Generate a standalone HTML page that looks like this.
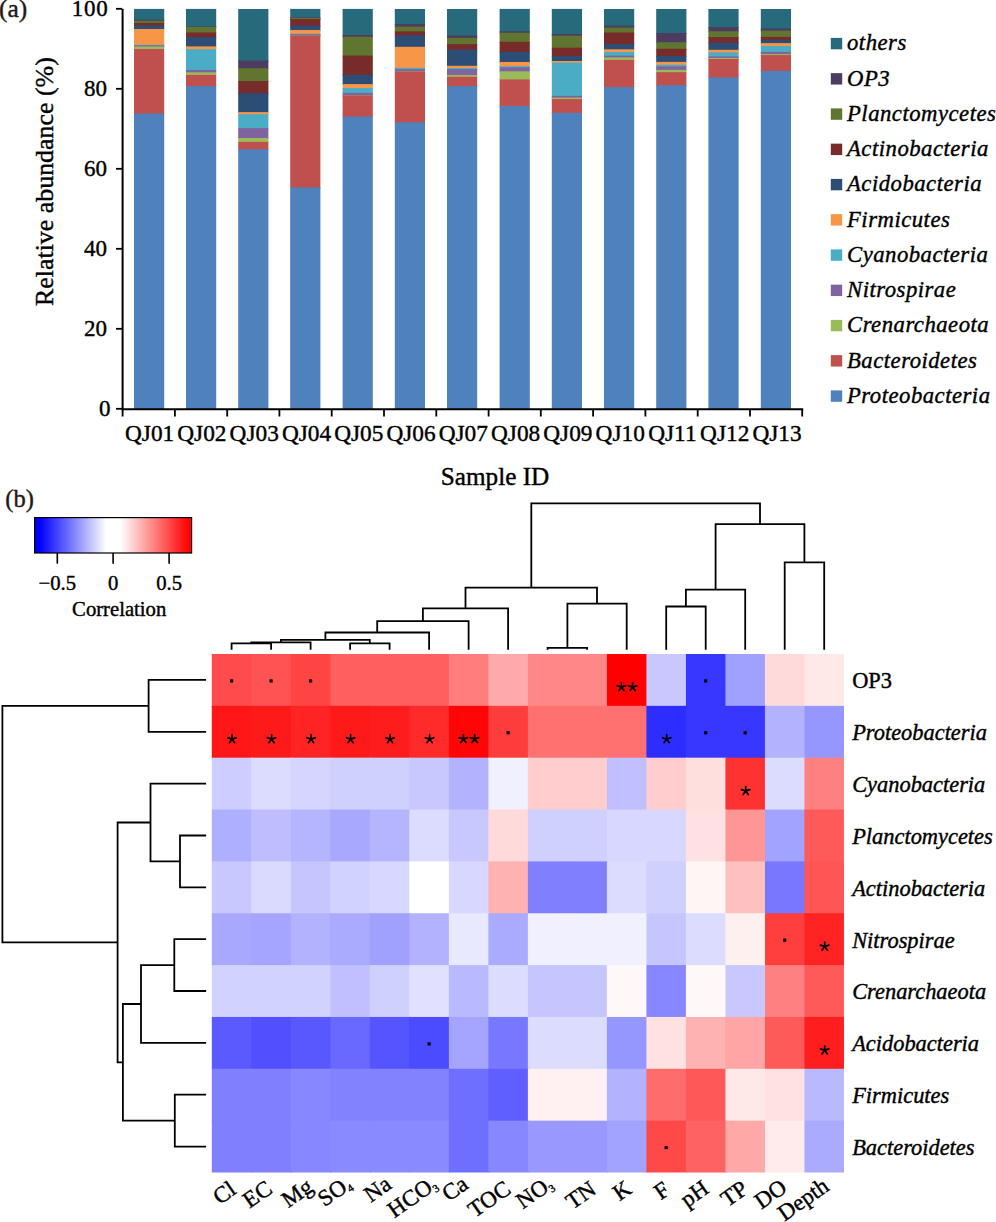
<!DOCTYPE html>
<html><head><meta charset="utf-8"><title>Figure</title>
<style>
html,body{margin:0;padding:0;background:#fff;}
body{width:996px;height:1222px;overflow:hidden;}
svg{display:block;}
text{font-family:"Liberation Serif", serif;fill:#000;stroke:#000;stroke-width:0.4px;}
</style></head>
<body>
<svg width="996" height="1222" viewBox="0 0 996 1222">
<rect x="134.0" y="8.90" width="30.2" height="11.80" fill="#276A7C"/>
<rect x="134.0" y="19.70" width="30.2" height="2.00" fill="#4D3B62"/>
<rect x="134.0" y="20.70" width="30.2" height="3.20" fill="#5F7530"/>
<rect x="134.0" y="22.90" width="30.2" height="3.50" fill="#772C2A"/>
<rect x="134.0" y="25.40" width="30.2" height="4.60" fill="#2C4D75"/>
<rect x="134.0" y="29.00" width="30.2" height="16.80" fill="#F79646"/>
<rect x="134.0" y="44.80" width="30.2" height="1.60" fill="#4BACC6"/>
<rect x="134.0" y="45.40" width="30.2" height="2.10" fill="#8064A2"/>
<rect x="134.0" y="46.50" width="30.2" height="3.50" fill="#9BBB59"/>
<rect x="134.0" y="49.00" width="30.2" height="65.50" fill="#C0504D"/>
<rect x="134.0" y="113.50" width="30.2" height="295.80" fill="#4F81BD"/>
<rect x="186.0" y="8.90" width="30.2" height="18.50" fill="#276A7C"/>
<rect x="186.0" y="26.40" width="30.2" height="1.50" fill="#4D3B62"/>
<rect x="186.0" y="26.90" width="30.2" height="6.60" fill="#5F7530"/>
<rect x="186.0" y="32.50" width="30.2" height="5.60" fill="#772C2A"/>
<rect x="186.0" y="37.10" width="30.2" height="10.30" fill="#2C4D75"/>
<rect x="186.0" y="46.40" width="30.2" height="3.80" fill="#F79646"/>
<rect x="186.0" y="49.20" width="30.2" height="21.80" fill="#4BACC6"/>
<rect x="186.0" y="70.00" width="30.2" height="3.30" fill="#8064A2"/>
<rect x="186.0" y="72.30" width="30.2" height="3.60" fill="#9BBB59"/>
<rect x="186.0" y="74.90" width="30.2" height="12.10" fill="#C0504D"/>
<rect x="186.0" y="86.00" width="30.2" height="323.30" fill="#4F81BD"/>
<rect x="238.2" y="9.00" width="30.2" height="52.60" fill="#276A7C"/>
<rect x="238.2" y="60.60" width="30.2" height="8.60" fill="#4D3B62"/>
<rect x="238.2" y="68.20" width="30.2" height="13.80" fill="#5F7530"/>
<rect x="238.2" y="81.00" width="30.2" height="13.30" fill="#772C2A"/>
<rect x="238.2" y="93.30" width="30.2" height="19.80" fill="#2C4D75"/>
<rect x="238.2" y="112.10" width="30.2" height="3.10" fill="#F79646"/>
<rect x="238.2" y="114.20" width="30.2" height="14.90" fill="#4BACC6"/>
<rect x="238.2" y="128.10" width="30.2" height="10.90" fill="#8064A2"/>
<rect x="238.2" y="138.00" width="30.2" height="4.90" fill="#9BBB59"/>
<rect x="238.2" y="141.90" width="30.2" height="8.40" fill="#C0504D"/>
<rect x="238.2" y="149.30" width="30.2" height="260.00" fill="#4F81BD"/>
<rect x="290.2" y="8.90" width="30.2" height="9.50" fill="#276A7C"/>
<rect x="290.2" y="17.40" width="30.2" height="1.50" fill="#4D3B62"/>
<rect x="290.2" y="17.90" width="30.2" height="2.10" fill="#5F7530"/>
<rect x="290.2" y="19.00" width="30.2" height="7.60" fill="#772C2A"/>
<rect x="290.2" y="25.60" width="30.2" height="5.40" fill="#2C4D75"/>
<rect x="290.2" y="30.00" width="30.2" height="4.70" fill="#F79646"/>
<rect x="290.2" y="33.70" width="30.2" height="1.50" fill="#4BACC6"/>
<rect x="290.2" y="34.20" width="30.2" height="2.20" fill="#8064A2"/>
<rect x="290.2" y="35.40" width="30.2" height="1.30" fill="#9BBB59"/>
<rect x="290.2" y="35.70" width="30.2" height="152.70" fill="#C0504D"/>
<rect x="290.2" y="187.40" width="30.2" height="221.90" fill="#4F81BD"/>
<rect x="342.6" y="8.90" width="30.2" height="27.00" fill="#276A7C"/>
<rect x="342.6" y="34.90" width="30.2" height="2.80" fill="#4D3B62"/>
<rect x="342.6" y="36.70" width="30.2" height="19.90" fill="#5F7530"/>
<rect x="342.6" y="55.60" width="30.2" height="20.30" fill="#772C2A"/>
<rect x="342.6" y="74.90" width="30.2" height="10.20" fill="#2C4D75"/>
<rect x="342.6" y="84.10" width="30.2" height="4.90" fill="#F79646"/>
<rect x="342.6" y="88.00" width="30.2" height="5.90" fill="#4BACC6"/>
<rect x="342.6" y="92.90" width="30.2" height="3.50" fill="#8064A2"/>
<rect x="342.6" y="95.40" width="30.2" height="1.10" fill="#9BBB59"/>
<rect x="342.6" y="95.50" width="30.2" height="22.00" fill="#C0504D"/>
<rect x="342.6" y="116.50" width="30.2" height="292.80" fill="#4F81BD"/>
<rect x="394.8" y="9.00" width="30.2" height="16.00" fill="#276A7C"/>
<rect x="394.8" y="24.00" width="30.2" height="3.60" fill="#4D3B62"/>
<rect x="394.8" y="26.60" width="30.2" height="5.80" fill="#5F7530"/>
<rect x="394.8" y="31.40" width="30.2" height="5.00" fill="#772C2A"/>
<rect x="394.8" y="35.40" width="30.2" height="12.40" fill="#2C4D75"/>
<rect x="394.8" y="46.80" width="30.2" height="22.00" fill="#F79646"/>
<rect x="394.8" y="67.80" width="30.2" height="2.40" fill="#4BACC6"/>
<rect x="394.8" y="69.20" width="30.2" height="3.10" fill="#8064A2"/>
<rect x="394.8" y="71.30" width="30.2" height="1.20" fill="#9BBB59"/>
<rect x="394.8" y="71.50" width="30.2" height="51.80" fill="#C0504D"/>
<rect x="394.8" y="122.30" width="30.2" height="287.00" fill="#4F81BD"/>
<rect x="447.0" y="9.00" width="30.2" height="27.50" fill="#276A7C"/>
<rect x="447.0" y="35.50" width="30.2" height="3.30" fill="#4D3B62"/>
<rect x="447.0" y="37.80" width="30.2" height="7.30" fill="#5F7530"/>
<rect x="447.0" y="44.10" width="30.2" height="6.50" fill="#772C2A"/>
<rect x="447.0" y="49.60" width="30.2" height="17.20" fill="#2C4D75"/>
<rect x="447.0" y="65.80" width="30.2" height="3.20" fill="#F79646"/>
<rect x="447.0" y="68.00" width="30.2" height="2.10" fill="#4BACC6"/>
<rect x="447.0" y="69.10" width="30.2" height="6.90" fill="#8064A2"/>
<rect x="447.0" y="75.00" width="30.2" height="2.80" fill="#9BBB59"/>
<rect x="447.0" y="76.80" width="30.2" height="10.30" fill="#C0504D"/>
<rect x="447.0" y="86.10" width="30.2" height="323.20" fill="#4F81BD"/>
<rect x="499.6" y="8.90" width="30.2" height="23.40" fill="#276A7C"/>
<rect x="499.6" y="31.30" width="30.2" height="2.40" fill="#4D3B62"/>
<rect x="499.6" y="32.70" width="30.2" height="10.10" fill="#5F7530"/>
<rect x="499.6" y="41.80" width="30.2" height="11.10" fill="#772C2A"/>
<rect x="499.6" y="51.90" width="30.2" height="11.10" fill="#2C4D75"/>
<rect x="499.6" y="62.00" width="30.2" height="5.20" fill="#F79646"/>
<rect x="499.6" y="66.20" width="30.2" height="2.20" fill="#4BACC6"/>
<rect x="499.6" y="67.40" width="30.2" height="4.90" fill="#8064A2"/>
<rect x="499.6" y="71.30" width="30.2" height="9.10" fill="#9BBB59"/>
<rect x="499.6" y="79.40" width="30.2" height="27.60" fill="#C0504D"/>
<rect x="499.6" y="106.00" width="30.2" height="303.30" fill="#4F81BD"/>
<rect x="551.8" y="8.90" width="30.2" height="26.10" fill="#276A7C"/>
<rect x="551.8" y="34.00" width="30.2" height="2.70" fill="#4D3B62"/>
<rect x="551.8" y="35.70" width="30.2" height="13.00" fill="#5F7530"/>
<rect x="551.8" y="47.70" width="30.2" height="9.40" fill="#772C2A"/>
<rect x="551.8" y="56.10" width="30.2" height="5.90" fill="#2C4D75"/>
<rect x="551.8" y="61.00" width="30.2" height="2.60" fill="#F79646"/>
<rect x="551.8" y="62.60" width="30.2" height="34.20" fill="#4BACC6"/>
<rect x="551.8" y="95.80" width="30.2" height="2.80" fill="#8064A2"/>
<rect x="551.8" y="97.60" width="30.2" height="2.50" fill="#9BBB59"/>
<rect x="551.8" y="99.10" width="30.2" height="14.70" fill="#C0504D"/>
<rect x="551.8" y="112.80" width="30.2" height="296.50" fill="#4F81BD"/>
<rect x="604.0" y="9.00" width="30.2" height="17.70" fill="#276A7C"/>
<rect x="604.0" y="25.70" width="30.2" height="2.90" fill="#4D3B62"/>
<rect x="604.0" y="27.60" width="30.2" height="5.90" fill="#5F7530"/>
<rect x="604.0" y="32.50" width="30.2" height="12.60" fill="#772C2A"/>
<rect x="604.0" y="44.10" width="30.2" height="6.20" fill="#2C4D75"/>
<rect x="604.0" y="49.30" width="30.2" height="3.70" fill="#F79646"/>
<rect x="604.0" y="52.00" width="30.2" height="4.60" fill="#4BACC6"/>
<rect x="604.0" y="55.60" width="30.2" height="2.80" fill="#8064A2"/>
<rect x="604.0" y="57.40" width="30.2" height="3.50" fill="#9BBB59"/>
<rect x="604.0" y="59.90" width="30.2" height="28.20" fill="#C0504D"/>
<rect x="604.0" y="87.10" width="30.2" height="322.20" fill="#4F81BD"/>
<rect x="656.2" y="9.00" width="30.2" height="25.00" fill="#276A7C"/>
<rect x="656.2" y="33.00" width="30.2" height="10.20" fill="#4D3B62"/>
<rect x="656.2" y="42.20" width="30.2" height="7.60" fill="#5F7530"/>
<rect x="656.2" y="48.80" width="30.2" height="8.20" fill="#772C2A"/>
<rect x="656.2" y="56.00" width="30.2" height="6.90" fill="#2C4D75"/>
<rect x="656.2" y="61.90" width="30.2" height="3.80" fill="#F79646"/>
<rect x="656.2" y="64.70" width="30.2" height="2.70" fill="#4BACC6"/>
<rect x="656.2" y="66.40" width="30.2" height="4.50" fill="#8064A2"/>
<rect x="656.2" y="69.90" width="30.2" height="3.30" fill="#9BBB59"/>
<rect x="656.2" y="72.20" width="30.2" height="14.00" fill="#C0504D"/>
<rect x="656.2" y="85.20" width="30.2" height="324.10" fill="#4F81BD"/>
<rect x="708.4" y="9.00" width="30.2" height="19.10" fill="#276A7C"/>
<rect x="708.4" y="27.10" width="30.2" height="5.10" fill="#4D3B62"/>
<rect x="708.4" y="31.20" width="30.2" height="6.90" fill="#5F7530"/>
<rect x="708.4" y="37.10" width="30.2" height="6.50" fill="#772C2A"/>
<rect x="708.4" y="42.60" width="30.2" height="8.20" fill="#2C4D75"/>
<rect x="708.4" y="49.80" width="30.2" height="3.60" fill="#F79646"/>
<rect x="708.4" y="52.40" width="30.2" height="5.00" fill="#4BACC6"/>
<rect x="708.4" y="56.40" width="30.2" height="2.60" fill="#8064A2"/>
<rect x="708.4" y="58.00" width="30.2" height="2.00" fill="#9BBB59"/>
<rect x="708.4" y="59.00" width="30.2" height="19.50" fill="#C0504D"/>
<rect x="708.4" y="77.50" width="30.2" height="331.80" fill="#4F81BD"/>
<rect x="760.8" y="9.00" width="30.2" height="20.50" fill="#276A7C"/>
<rect x="760.8" y="28.50" width="30.2" height="3.10" fill="#4D3B62"/>
<rect x="760.8" y="30.60" width="30.2" height="7.30" fill="#5F7530"/>
<rect x="760.8" y="36.90" width="30.2" height="3.90" fill="#772C2A"/>
<rect x="760.8" y="39.80" width="30.2" height="4.30" fill="#2C4D75"/>
<rect x="760.8" y="43.10" width="30.2" height="4.00" fill="#F79646"/>
<rect x="760.8" y="46.10" width="30.2" height="6.80" fill="#4BACC6"/>
<rect x="760.8" y="51.90" width="30.2" height="3.20" fill="#8064A2"/>
<rect x="760.8" y="54.10" width="30.2" height="2.00" fill="#9BBB59"/>
<rect x="760.8" y="55.10" width="30.2" height="16.80" fill="#C0504D"/>
<rect x="760.8" y="70.90" width="30.2" height="338.40" fill="#4F81BD"/>
<line x1="122.6" y1="8.8" x2="122.6" y2="410.3" stroke="#000" stroke-width="2"/>
<line x1="121.6" y1="409.3" x2="803.2" y2="409.3" stroke="#000" stroke-width="2"/>
<line x1="116" y1="8.8" x2="122" y2="8.8" stroke="#000" stroke-width="1.8"/>
<text x="108.6" y="16.0" text-anchor="end" font-size="23" letter-spacing="0.8">100</text>
<line x1="116" y1="88.8" x2="122" y2="88.8" stroke="#000" stroke-width="1.8"/>
<text x="107" y="96.0" text-anchor="end" font-size="23">80</text>
<line x1="116" y1="168.8" x2="122" y2="168.8" stroke="#000" stroke-width="1.8"/>
<text x="107" y="176.0" text-anchor="end" font-size="23">60</text>
<line x1="116" y1="248.8" x2="122" y2="248.8" stroke="#000" stroke-width="1.8"/>
<text x="107" y="256.0" text-anchor="end" font-size="23">40</text>
<line x1="116" y1="328.8" x2="122" y2="328.8" stroke="#000" stroke-width="1.8"/>
<text x="107" y="336.0" text-anchor="end" font-size="23">20</text>
<line x1="116" y1="408.8" x2="122" y2="408.8" stroke="#000" stroke-width="1.8"/>
<text x="110.6" y="416.0" text-anchor="end" font-size="23">0</text>
<line x1="122.6" y1="409.3" x2="122.6" y2="416.5" stroke="#000" stroke-width="1.8"/>
<line x1="174.9" y1="409.3" x2="174.9" y2="416.5" stroke="#000" stroke-width="1.8"/>
<line x1="227.2" y1="409.3" x2="227.2" y2="416.5" stroke="#000" stroke-width="1.8"/>
<line x1="279.4" y1="409.3" x2="279.4" y2="416.5" stroke="#000" stroke-width="1.8"/>
<line x1="331.7" y1="409.3" x2="331.7" y2="416.5" stroke="#000" stroke-width="1.8"/>
<line x1="384.0" y1="409.3" x2="384.0" y2="416.5" stroke="#000" stroke-width="1.8"/>
<line x1="436.3" y1="409.3" x2="436.3" y2="416.5" stroke="#000" stroke-width="1.8"/>
<line x1="488.6" y1="409.3" x2="488.6" y2="416.5" stroke="#000" stroke-width="1.8"/>
<line x1="540.8" y1="409.3" x2="540.8" y2="416.5" stroke="#000" stroke-width="1.8"/>
<line x1="593.1" y1="409.3" x2="593.1" y2="416.5" stroke="#000" stroke-width="1.8"/>
<line x1="645.4" y1="409.3" x2="645.4" y2="416.5" stroke="#000" stroke-width="1.8"/>
<line x1="697.7" y1="409.3" x2="697.7" y2="416.5" stroke="#000" stroke-width="1.8"/>
<line x1="750.0" y1="409.3" x2="750.0" y2="416.5" stroke="#000" stroke-width="1.8"/>
<line x1="802.2" y1="409.3" x2="802.2" y2="416.5" stroke="#000" stroke-width="1.8"/>
<text x="149.6" y="441.2" text-anchor="middle" font-size="23.3">QJ01</text>
<text x="201.9" y="441.2" text-anchor="middle" font-size="23.3">QJ02</text>
<text x="254.2" y="441.2" text-anchor="middle" font-size="23.3">QJ03</text>
<text x="306.5" y="441.2" text-anchor="middle" font-size="23.3">QJ04</text>
<text x="358.8" y="441.2" text-anchor="middle" font-size="23.3">QJ05</text>
<text x="411.0" y="441.2" text-anchor="middle" font-size="23.3">QJ06</text>
<text x="463.3" y="441.2" text-anchor="middle" font-size="23.3">QJ07</text>
<text x="515.6" y="441.2" text-anchor="middle" font-size="23.3">QJ08</text>
<text x="567.9" y="441.2" text-anchor="middle" font-size="23.3">QJ09</text>
<text x="620.2" y="441.2" text-anchor="middle" font-size="23.3">QJ10</text>
<text x="672.4" y="441.2" text-anchor="middle" font-size="23.3">QJ11</text>
<text x="724.7" y="441.2" text-anchor="middle" font-size="23.3">QJ12</text>
<text x="777.0" y="441.2" text-anchor="middle" font-size="23.3">QJ13</text>
<text x="495" y="484.5" text-anchor="middle" font-size="25.2">Sample ID</text>
<text transform="translate(52.6,181.6) rotate(-90)" text-anchor="middle" font-size="25.9">Relative abundance (%)</text>
<text x="-1" y="16.6" font-size="25.5" style="fill:#231815;stroke:#231815">(a)</text>
<rect x="830.8" y="37.90" width="11.4" height="11.4" fill="#276A7C"/>
<text x="847" y="50.40" font-size="22.7" font-style="italic" letter-spacing="0.5">others</text>
<rect x="830.8" y="73.15" width="11.4" height="11.4" fill="#4D3B62"/>
<text x="847" y="85.65" font-size="22.7" font-style="italic" letter-spacing="0.5">OP3</text>
<rect x="830.8" y="108.40" width="11.4" height="11.4" fill="#5F7530"/>
<text x="847" y="120.90" font-size="22.7" font-style="italic" letter-spacing="0.5">Planctomycetes</text>
<rect x="830.8" y="143.65" width="11.4" height="11.4" fill="#772C2A"/>
<text x="847" y="156.15" font-size="22.7" font-style="italic" letter-spacing="0.5">Actinobacteria</text>
<rect x="830.8" y="178.90" width="11.4" height="11.4" fill="#2C4D75"/>
<text x="847" y="191.40" font-size="22.7" font-style="italic" letter-spacing="0.5">Acidobacteria</text>
<rect x="830.8" y="214.15" width="11.4" height="11.4" fill="#F79646"/>
<text x="847" y="226.65" font-size="22.7" font-style="italic" letter-spacing="0.5">Firmicutes</text>
<rect x="830.8" y="249.40" width="11.4" height="11.4" fill="#4BACC6"/>
<text x="847" y="261.90" font-size="22.7" font-style="italic" letter-spacing="0.5">Cyanobacteria</text>
<rect x="830.8" y="284.65" width="11.4" height="11.4" fill="#8064A2"/>
<text x="847" y="297.15" font-size="22.7" font-style="italic" letter-spacing="0.5">Nitrospirae</text>
<rect x="830.8" y="319.90" width="11.4" height="11.4" fill="#9BBB59"/>
<text x="847" y="332.40" font-size="22.7" font-style="italic" letter-spacing="0.5">Crenarchaeota</text>
<rect x="830.8" y="355.15" width="11.4" height="11.4" fill="#C0504D"/>
<text x="847" y="367.65" font-size="22.7" font-style="italic" letter-spacing="0.5">Bacteroidetes</text>
<rect x="830.8" y="390.40" width="11.4" height="11.4" fill="#4F81BD"/>
<text x="847" y="402.90" font-size="22.7" font-style="italic" letter-spacing="0.5">Proteobacteria</text>
<rect x="211.80" y="654.00" width="40.71" height="53.05" fill="#ff4b4b"/>
<rect x="251.31" y="654.00" width="40.71" height="53.05" fill="#ff5252"/>
<rect x="290.82" y="654.00" width="40.71" height="53.05" fill="#ff4444"/>
<rect x="330.33" y="654.00" width="40.71" height="53.05" fill="#ff5f5f"/>
<rect x="369.84" y="654.00" width="40.71" height="53.05" fill="#ff5f5f"/>
<rect x="409.35" y="654.00" width="40.71" height="53.05" fill="#ff5f5f"/>
<rect x="448.86" y="654.00" width="40.71" height="53.05" fill="#ff7d7d"/>
<rect x="488.37" y="654.00" width="40.71" height="53.05" fill="#ffaaaa"/>
<rect x="527.88" y="654.00" width="40.71" height="53.05" fill="#ff8787"/>
<rect x="567.39" y="654.00" width="40.71" height="53.05" fill="#ff8787"/>
<rect x="606.90" y="654.00" width="40.71" height="53.05" fill="#ff0000"/>
<rect x="646.41" y="654.00" width="40.71" height="53.05" fill="#c8c8ff"/>
<rect x="685.92" y="654.00" width="40.71" height="53.05" fill="#3737ff"/>
<rect x="725.43" y="654.00" width="40.71" height="53.05" fill="#a0a0ff"/>
<rect x="764.94" y="654.00" width="40.71" height="53.05" fill="#ffdada"/>
<rect x="804.45" y="654.00" width="39.51" height="53.05" fill="#ffe8e8"/>
<rect x="211.80" y="705.85" width="40.71" height="53.05" fill="#ff1616"/>
<rect x="251.31" y="705.85" width="40.71" height="53.05" fill="#ff1a1a"/>
<rect x="290.82" y="705.85" width="40.71" height="53.05" fill="#ff2424"/>
<rect x="330.33" y="705.85" width="40.71" height="53.05" fill="#ff1a1a"/>
<rect x="369.84" y="705.85" width="40.71" height="53.05" fill="#ff1c1c"/>
<rect x="409.35" y="705.85" width="40.71" height="53.05" fill="#ff2a2a"/>
<rect x="448.86" y="705.85" width="40.71" height="53.05" fill="#ff0505"/>
<rect x="488.37" y="705.85" width="40.71" height="53.05" fill="#ff3c3c"/>
<rect x="527.88" y="705.85" width="40.71" height="53.05" fill="#ff7070"/>
<rect x="567.39" y="705.85" width="40.71" height="53.05" fill="#ff7070"/>
<rect x="606.90" y="705.85" width="40.71" height="53.05" fill="#ff7070"/>
<rect x="646.41" y="705.85" width="40.71" height="53.05" fill="#2d2dff"/>
<rect x="685.92" y="705.85" width="40.71" height="53.05" fill="#3737ff"/>
<rect x="725.43" y="705.85" width="40.71" height="53.05" fill="#3737ff"/>
<rect x="764.94" y="705.85" width="40.71" height="53.05" fill="#b2b2ff"/>
<rect x="804.45" y="705.85" width="39.51" height="53.05" fill="#9696ff"/>
<rect x="211.80" y="757.70" width="40.71" height="53.05" fill="#cdcdff"/>
<rect x="251.31" y="757.70" width="40.71" height="53.05" fill="#dcdcff"/>
<rect x="290.82" y="757.70" width="40.71" height="53.05" fill="#d5d5ff"/>
<rect x="330.33" y="757.70" width="40.71" height="53.05" fill="#d0d0ff"/>
<rect x="369.84" y="757.70" width="40.71" height="53.05" fill="#d0d0ff"/>
<rect x="409.35" y="757.70" width="40.71" height="53.05" fill="#c8c8ff"/>
<rect x="448.86" y="757.70" width="40.71" height="53.05" fill="#b2b2ff"/>
<rect x="488.37" y="757.70" width="40.71" height="53.05" fill="#f0f0ff"/>
<rect x="527.88" y="757.70" width="40.71" height="53.05" fill="#ffcdcd"/>
<rect x="567.39" y="757.70" width="40.71" height="53.05" fill="#ffcdcd"/>
<rect x="606.90" y="757.70" width="40.71" height="53.05" fill="#c0c0ff"/>
<rect x="646.41" y="757.70" width="40.71" height="53.05" fill="#ffcdcd"/>
<rect x="685.92" y="757.70" width="40.71" height="53.05" fill="#ffdede"/>
<rect x="725.43" y="757.70" width="40.71" height="53.05" fill="#ff3232"/>
<rect x="764.94" y="757.70" width="40.71" height="53.05" fill="#dcdcff"/>
<rect x="804.45" y="757.70" width="39.51" height="53.05" fill="#ff8080"/>
<rect x="211.80" y="809.55" width="40.71" height="53.05" fill="#afafff"/>
<rect x="251.31" y="809.55" width="40.71" height="53.05" fill="#bebeff"/>
<rect x="290.82" y="809.55" width="40.71" height="53.05" fill="#b4b4ff"/>
<rect x="330.33" y="809.55" width="40.71" height="53.05" fill="#a8a8ff"/>
<rect x="369.84" y="809.55" width="40.71" height="53.05" fill="#b4b4ff"/>
<rect x="409.35" y="809.55" width="40.71" height="53.05" fill="#dcdcff"/>
<rect x="448.86" y="809.55" width="40.71" height="53.05" fill="#c8c8ff"/>
<rect x="488.37" y="809.55" width="40.71" height="53.05" fill="#ffdada"/>
<rect x="527.88" y="809.55" width="40.71" height="53.05" fill="#d0d0ff"/>
<rect x="567.39" y="809.55" width="40.71" height="53.05" fill="#d0d0ff"/>
<rect x="606.90" y="809.55" width="40.71" height="53.05" fill="#d7d7ff"/>
<rect x="646.41" y="809.55" width="40.71" height="53.05" fill="#d7d7ff"/>
<rect x="685.92" y="809.55" width="40.71" height="53.05" fill="#ffe1e1"/>
<rect x="725.43" y="809.55" width="40.71" height="53.05" fill="#ff9696"/>
<rect x="764.94" y="809.55" width="40.71" height="53.05" fill="#a2a2ff"/>
<rect x="804.45" y="809.55" width="39.51" height="53.05" fill="#ff5a5a"/>
<rect x="211.80" y="861.40" width="40.71" height="53.05" fill="#c8c8ff"/>
<rect x="251.31" y="861.40" width="40.71" height="53.05" fill="#dadaff"/>
<rect x="290.82" y="861.40" width="40.71" height="53.05" fill="#c6c6ff"/>
<rect x="330.33" y="861.40" width="40.71" height="53.05" fill="#d2d2ff"/>
<rect x="369.84" y="861.40" width="40.71" height="53.05" fill="#d7d7ff"/>
<rect x="409.35" y="861.40" width="40.71" height="53.05" fill="#ffffff"/>
<rect x="448.86" y="861.40" width="40.71" height="53.05" fill="#d7d7ff"/>
<rect x="488.37" y="861.40" width="40.71" height="53.05" fill="#ffb2b2"/>
<rect x="527.88" y="861.40" width="40.71" height="53.05" fill="#8080ff"/>
<rect x="567.39" y="861.40" width="40.71" height="53.05" fill="#8080ff"/>
<rect x="606.90" y="861.40" width="40.71" height="53.05" fill="#dcdcff"/>
<rect x="646.41" y="861.40" width="40.71" height="53.05" fill="#d0d0ff"/>
<rect x="685.92" y="861.40" width="40.71" height="53.05" fill="#fff5f5"/>
<rect x="725.43" y="861.40" width="40.71" height="53.05" fill="#ffc0c0"/>
<rect x="764.94" y="861.40" width="40.71" height="53.05" fill="#7878ff"/>
<rect x="804.45" y="861.40" width="39.51" height="53.05" fill="#ff5555"/>
<rect x="211.80" y="913.25" width="40.71" height="53.05" fill="#a8a8ff"/>
<rect x="251.31" y="913.25" width="40.71" height="53.05" fill="#a5a5ff"/>
<rect x="290.82" y="913.25" width="40.71" height="53.05" fill="#b2b2ff"/>
<rect x="330.33" y="913.25" width="40.71" height="53.05" fill="#aaaaff"/>
<rect x="369.84" y="913.25" width="40.71" height="53.05" fill="#a0a0ff"/>
<rect x="409.35" y="913.25" width="40.71" height="53.05" fill="#b2b2ff"/>
<rect x="448.86" y="913.25" width="40.71" height="53.05" fill="#e8e8ff"/>
<rect x="488.37" y="913.25" width="40.71" height="53.05" fill="#aaaaff"/>
<rect x="527.88" y="913.25" width="40.71" height="53.05" fill="#f0f0ff"/>
<rect x="567.39" y="913.25" width="40.71" height="53.05" fill="#f0f0ff"/>
<rect x="606.90" y="913.25" width="40.71" height="53.05" fill="#f0f0ff"/>
<rect x="646.41" y="913.25" width="40.71" height="53.05" fill="#c6c6ff"/>
<rect x="685.92" y="913.25" width="40.71" height="53.05" fill="#dcdcff"/>
<rect x="725.43" y="913.25" width="40.71" height="53.05" fill="#fff0f0"/>
<rect x="764.94" y="913.25" width="40.71" height="53.05" fill="#ff3e3e"/>
<rect x="804.45" y="913.25" width="39.51" height="53.05" fill="#ff2323"/>
<rect x="211.80" y="965.10" width="40.71" height="53.05" fill="#d2d2ff"/>
<rect x="251.31" y="965.10" width="40.71" height="53.05" fill="#d2d2ff"/>
<rect x="290.82" y="965.10" width="40.71" height="53.05" fill="#d2d2ff"/>
<rect x="330.33" y="965.10" width="40.71" height="53.05" fill="#c0c0ff"/>
<rect x="369.84" y="965.10" width="40.71" height="53.05" fill="#d0d0ff"/>
<rect x="409.35" y="965.10" width="40.71" height="53.05" fill="#e1e1ff"/>
<rect x="448.86" y="965.10" width="40.71" height="53.05" fill="#b9b9ff"/>
<rect x="488.37" y="965.10" width="40.71" height="53.05" fill="#dcdcff"/>
<rect x="527.88" y="965.10" width="40.71" height="53.05" fill="#c6c6ff"/>
<rect x="567.39" y="965.10" width="40.71" height="53.05" fill="#c6c6ff"/>
<rect x="606.90" y="965.10" width="40.71" height="53.05" fill="#fff8f8"/>
<rect x="646.41" y="965.10" width="40.71" height="53.05" fill="#8787ff"/>
<rect x="685.92" y="965.10" width="40.71" height="53.05" fill="#fff8f8"/>
<rect x="725.43" y="965.10" width="40.71" height="53.05" fill="#c8c8ff"/>
<rect x="764.94" y="965.10" width="40.71" height="53.05" fill="#ff8080"/>
<rect x="804.45" y="965.10" width="39.51" height="53.05" fill="#ff5a5a"/>
<rect x="211.80" y="1016.95" width="40.71" height="53.05" fill="#5a5aff"/>
<rect x="251.31" y="1016.95" width="40.71" height="53.05" fill="#5050ff"/>
<rect x="290.82" y="1016.95" width="40.71" height="53.05" fill="#5858ff"/>
<rect x="330.33" y="1016.95" width="40.71" height="53.05" fill="#6969ff"/>
<rect x="369.84" y="1016.95" width="40.71" height="53.05" fill="#5555ff"/>
<rect x="409.35" y="1016.95" width="40.71" height="53.05" fill="#4b4bff"/>
<rect x="448.86" y="1016.95" width="40.71" height="53.05" fill="#a5a5ff"/>
<rect x="488.37" y="1016.95" width="40.71" height="53.05" fill="#7878ff"/>
<rect x="527.88" y="1016.95" width="40.71" height="53.05" fill="#dcdcff"/>
<rect x="567.39" y="1016.95" width="40.71" height="53.05" fill="#dcdcff"/>
<rect x="606.90" y="1016.95" width="40.71" height="53.05" fill="#9696ff"/>
<rect x="646.41" y="1016.95" width="40.71" height="53.05" fill="#ffe1e1"/>
<rect x="685.92" y="1016.95" width="40.71" height="53.05" fill="#ffb2b2"/>
<rect x="725.43" y="1016.95" width="40.71" height="53.05" fill="#ffa5a5"/>
<rect x="764.94" y="1016.95" width="40.71" height="53.05" fill="#ff5a5a"/>
<rect x="804.45" y="1016.95" width="39.51" height="53.05" fill="#ff1e1e"/>
<rect x="211.80" y="1068.80" width="40.71" height="53.05" fill="#8080ff"/>
<rect x="251.31" y="1068.80" width="40.71" height="53.05" fill="#8080ff"/>
<rect x="290.82" y="1068.80" width="40.71" height="53.05" fill="#8787ff"/>
<rect x="330.33" y="1068.80" width="40.71" height="53.05" fill="#8282ff"/>
<rect x="369.84" y="1068.80" width="40.71" height="53.05" fill="#8282ff"/>
<rect x="409.35" y="1068.80" width="40.71" height="53.05" fill="#8282ff"/>
<rect x="448.86" y="1068.80" width="40.71" height="53.05" fill="#6e6eff"/>
<rect x="488.37" y="1068.80" width="40.71" height="53.05" fill="#5f5fff"/>
<rect x="527.88" y="1068.80" width="40.71" height="53.05" fill="#fff1f1"/>
<rect x="567.39" y="1068.80" width="40.71" height="53.05" fill="#fff1f1"/>
<rect x="606.90" y="1068.80" width="40.71" height="53.05" fill="#b2b2ff"/>
<rect x="646.41" y="1068.80" width="40.71" height="53.05" fill="#ff6c6c"/>
<rect x="685.92" y="1068.80" width="40.71" height="53.05" fill="#ff5858"/>
<rect x="725.43" y="1068.80" width="40.71" height="53.05" fill="#ffe8e8"/>
<rect x="764.94" y="1068.80" width="40.71" height="53.05" fill="#ffe1e1"/>
<rect x="804.45" y="1068.80" width="39.51" height="53.05" fill="#b9b9ff"/>
<rect x="211.80" y="1120.65" width="40.71" height="51.85" fill="#8080ff"/>
<rect x="251.31" y="1120.65" width="40.71" height="51.85" fill="#8080ff"/>
<rect x="290.82" y="1120.65" width="40.71" height="51.85" fill="#8787ff"/>
<rect x="330.33" y="1120.65" width="40.71" height="51.85" fill="#8a8aff"/>
<rect x="369.84" y="1120.65" width="40.71" height="51.85" fill="#8a8aff"/>
<rect x="409.35" y="1120.65" width="40.71" height="51.85" fill="#8a8aff"/>
<rect x="448.86" y="1120.65" width="40.71" height="51.85" fill="#6e6eff"/>
<rect x="488.37" y="1120.65" width="40.71" height="51.85" fill="#8787ff"/>
<rect x="527.88" y="1120.65" width="40.71" height="51.85" fill="#9898ff"/>
<rect x="567.39" y="1120.65" width="40.71" height="51.85" fill="#9898ff"/>
<rect x="606.90" y="1120.65" width="40.71" height="51.85" fill="#a2a2ff"/>
<rect x="646.41" y="1120.65" width="40.71" height="51.85" fill="#ff4848"/>
<rect x="685.92" y="1120.65" width="40.71" height="51.85" fill="#ff6262"/>
<rect x="725.43" y="1120.65" width="40.71" height="51.85" fill="#ffa8a8"/>
<rect x="764.94" y="1120.65" width="40.71" height="51.85" fill="#ffebeb"/>
<rect x="804.45" y="1120.65" width="39.51" height="51.85" fill="#aaaaff"/>
<rect x="229.96" y="679.32" width="3.2" height="3.2" fill="#000"/>
<rect x="269.46" y="679.32" width="3.2" height="3.2" fill="#000"/>
<rect x="308.97" y="679.32" width="3.2" height="3.2" fill="#000"/>
<path d="M621.45 687.12L621.45 682.73M621.45 687.12L625.64 685.77M621.45 687.12L624.04 690.68M621.45 687.12L618.87 690.68M621.45 687.12L617.27 685.77" stroke="#000" stroke-width="1.7" stroke-linecap="round" fill="none"/>
<path d="M632.65 687.12L632.65 682.73M632.65 687.12L636.84 685.77M632.65 687.12L635.24 690.68M632.65 687.12L630.07 690.68M632.65 687.12L628.47 685.77" stroke="#000" stroke-width="1.7" stroke-linecap="round" fill="none"/>
<rect x="704.07" y="679.32" width="3.2" height="3.2" fill="#000"/>
<path d="M232.06 739.07L232.06 734.67M232.06 739.07L236.24 737.72M232.06 739.07L234.64 742.63M232.06 739.07L229.47 742.63M232.06 739.07L227.87 737.72" stroke="#000" stroke-width="1.7" stroke-linecap="round" fill="none"/>
<path d="M271.56 739.07L271.56 734.67M271.56 739.07L275.75 737.72M271.56 739.07L274.15 742.63M271.56 739.07L268.98 742.63M271.56 739.07L267.38 737.72" stroke="#000" stroke-width="1.7" stroke-linecap="round" fill="none"/>
<path d="M311.07 739.07L311.07 734.67M311.07 739.07L315.26 737.72M311.07 739.07L313.66 742.63M311.07 739.07L308.49 742.63M311.07 739.07L306.89 737.72" stroke="#000" stroke-width="1.7" stroke-linecap="round" fill="none"/>
<path d="M350.59 739.07L350.59 734.67M350.59 739.07L354.77 737.72M350.59 739.07L353.17 742.63M350.59 739.07L348.00 742.63M350.59 739.07L346.40 737.72" stroke="#000" stroke-width="1.7" stroke-linecap="round" fill="none"/>
<path d="M390.10 739.07L390.10 734.67M390.10 739.07L394.28 737.72M390.10 739.07L392.68 742.63M390.10 739.07L387.51 742.63M390.10 739.07L385.91 737.72" stroke="#000" stroke-width="1.7" stroke-linecap="round" fill="none"/>
<path d="M429.61 739.07L429.61 734.67M429.61 739.07L433.79 737.72M429.61 739.07L432.19 742.63M429.61 739.07L427.02 742.63M429.61 739.07L425.42 737.72" stroke="#000" stroke-width="1.7" stroke-linecap="round" fill="none"/>
<path d="M463.42 738.98L463.42 734.58M463.42 738.98L467.60 737.62M463.42 738.98L466.00 742.53M463.42 738.98L460.83 742.53M463.42 738.98L459.23 737.62" stroke="#000" stroke-width="1.7" stroke-linecap="round" fill="none"/>
<path d="M474.62 738.98L474.62 734.58M474.62 738.98L478.80 737.62M474.62 738.98L477.20 742.53M474.62 738.98L472.03 742.53M474.62 738.98L470.43 737.62" stroke="#000" stroke-width="1.7" stroke-linecap="round" fill="none"/>
<rect x="506.52" y="731.17" width="3.2" height="3.2" fill="#000"/>
<path d="M666.66 739.07L666.66 734.67M666.66 739.07L670.85 737.72M666.66 739.07L669.25 742.63M666.66 739.07L664.08 742.63M666.66 739.07L662.48 737.72" stroke="#000" stroke-width="1.7" stroke-linecap="round" fill="none"/>
<rect x="704.07" y="731.17" width="3.2" height="3.2" fill="#000"/>
<rect x="743.58" y="731.17" width="3.2" height="3.2" fill="#000"/>
<path d="M745.68 790.92L745.68 786.52M745.68 790.92L749.87 789.57M745.68 790.92L748.27 794.48M745.68 790.92L743.10 794.48M745.68 790.92L741.50 789.57" stroke="#000" stroke-width="1.7" stroke-linecap="round" fill="none"/>
<rect x="783.09" y="938.57" width="3.2" height="3.2" fill="#000"/>
<path d="M824.70 946.47L824.70 942.07M824.70 946.47L828.89 945.12M824.70 946.47L827.29 950.03M824.70 946.47L822.12 950.03M824.70 946.47L820.52 945.12" stroke="#000" stroke-width="1.7" stroke-linecap="round" fill="none"/>
<rect x="427.50" y="1042.28" width="3.2" height="3.2" fill="#000"/>
<path d="M824.70 1050.17L824.70 1045.77M824.70 1050.17L828.89 1048.82M824.70 1050.17L827.29 1053.73M824.70 1050.17L822.12 1053.73M824.70 1050.17L820.52 1048.82" stroke="#000" stroke-width="1.7" stroke-linecap="round" fill="none"/>
<rect x="664.56" y="1145.98" width="3.2" height="3.2" fill="#000"/>
<text x="852.2" y="688.2" font-size="22.4">OP3</text>
<text x="852.2" y="740.1" font-size="22.4" font-style="italic">Proteobacteria</text>
<text x="852.2" y="791.9" font-size="22.4" font-style="italic">Cyanobacteria</text>
<text x="852.2" y="843.8" font-size="22.4" font-style="italic">Planctomycetes</text>
<text x="852.2" y="895.6" font-size="22.4" font-style="italic">Actinobacteria</text>
<text x="852.2" y="947.5" font-size="22.4" font-style="italic">Nitrospirae</text>
<text x="852.2" y="999.3" font-size="22.4" font-style="italic">Crenarchaeota</text>
<text x="852.2" y="1051.2" font-size="22.4" font-style="italic">Acidobacteria</text>
<text x="852.2" y="1103.0" font-size="22.4" font-style="italic">Firmicutes</text>
<text x="852.2" y="1154.9" font-size="22.4" font-style="italic">Bacteroidetes</text>
<text transform="translate(237.5,1192.7) rotate(-35)" text-anchor="end" font-size="23">Cl</text>
<text transform="translate(273.7,1192.0) rotate(-35)" text-anchor="end" font-size="23">EC</text>
<text transform="translate(314.4,1189.9) rotate(-35)" text-anchor="end" font-size="23">Mg</text>
<text transform="translate(353.0,1187.2) rotate(-35)" text-anchor="end" font-size="23">SO<tspan font-size="11" dy="3">4</tspan></text>
<text transform="translate(392.8,1187.5) rotate(-35)" text-anchor="end" font-size="23">Na</text>
<text transform="translate(438.6,1187.4) rotate(-35)" text-anchor="end" font-size="23">HCO<tspan font-size="11" dy="3">3</tspan></text>
<text transform="translate(469.7,1187.4) rotate(-35)" text-anchor="end" font-size="23">Ca</text>
<text transform="translate(512.2,1192.1) rotate(-35)" text-anchor="end" font-size="23">TOC</text>
<text transform="translate(554.6,1187.3) rotate(-35)" text-anchor="end" font-size="23">NO<tspan font-size="11" dy="3">3</tspan></text>
<text transform="translate(597.7,1192.5) rotate(-35)" text-anchor="end" font-size="23">TN</text>
<text transform="translate(633.1,1192.0) rotate(-35)" text-anchor="end" font-size="23">K</text>
<text transform="translate(671.2,1193.1) rotate(-35)" text-anchor="end" font-size="23">F</text>
<text transform="translate(710.4,1191.8) rotate(-35)" text-anchor="end" font-size="23">pH</text>
<text transform="translate(749.4,1192.2) rotate(-35)" text-anchor="end" font-size="23">TP</text>
<text transform="translate(788.4,1190.8) rotate(-35)" text-anchor="end" font-size="23">DO</text>
<text transform="translate(830.5,1189.4) rotate(-35)" text-anchor="end" font-size="23">Depth</text>
<path d="M231.6 648.8L231.6 643.4M231.6 643.4L271.1 643.4M271.1 643.4L271.1 648.8M251.3 643.4L251.3 642.4M251.3 642.4L310.6 642.4M310.6 642.4L310.6 648.8M350.1 648.8L350.1 643.4M350.1 643.4L389.6 643.4M389.6 643.4L389.6 648.8M280.9 642.4L280.9 639.8M280.9 639.8L369.8 639.8M369.8 639.8L369.8 643.4M325.4 639.8L325.4 632.5M325.4 632.5L429.1 632.5M429.1 632.5L429.1 648.8M377.2 632.5L377.2 621.2M377.2 621.2L468.6 621.2M468.6 621.2L468.6 648.8M422.9 621.2L422.9 608.3M422.9 608.3L508.1 608.3M508.1 608.3L508.1 648.8M547.6 648.8L547.6 647.8M547.6 647.8L587.1 647.8M587.1 647.8L587.1 648.8M567.4 647.8L567.4 603.7M567.4 603.7L626.7 603.7M626.7 603.7L626.7 648.8M465.5 608.3L465.5 587.7M465.5 587.7L597.0 587.7M597.0 587.7L597.0 603.7M666.2 648.8L666.2 606.5M666.2 606.5L705.7 606.5M705.7 606.5L705.7 648.8M685.9 606.5L685.9 589.6M685.9 589.6L745.2 589.6M745.2 589.6L745.2 648.8M784.7 648.8L784.7 562.3M784.7 562.3L824.2 562.3M824.2 562.3L824.2 648.8M715.6 589.6L715.6 524.1M715.6 524.1L804.4 524.1M804.4 524.1L804.4 562.3M531.3 587.7L531.3 503.3M531.3 503.3L760.0 503.3M760.0 503.3L760.0 524.1M205.2 679.9L148.6 679.9M148.6 679.9L148.6 731.8M148.6 731.8L205.2 731.8M205.2 835.5L180.0 835.5M180.0 835.5L180.0 887.3M180.0 887.3L205.2 887.3M205.2 783.6L150.5 783.6M150.5 783.6L150.5 861.4M150.5 861.4L180.0 861.4M205.2 939.2L174.3 939.2M174.3 939.2L174.3 991.0M174.3 991.0L205.2 991.0M174.3 965.1L141.0 965.1M141.0 965.1L141.0 1042.9M141.0 1042.9L205.2 1042.9M205.2 1094.7L174.8 1094.7M174.8 1094.7L174.8 1146.6M174.8 1146.6L205.2 1146.6M141.0 1004.0L122.9 1004.0M122.9 1004.0L122.9 1120.7M122.9 1120.7L174.8 1120.7M150.5 822.5L117.6 822.5M117.6 822.5L117.6 1062.3M117.6 1062.3L122.9 1062.3M148.6 705.8L2.4 705.8M2.4 705.8L2.4 942.4M2.4 942.4L117.6 942.4" stroke="#000" stroke-width="1.8" fill="none" stroke-linecap="square"/>
<defs><linearGradient id="cb" x1="0" x2="1" y1="0" y2="0"><stop offset="0.034" stop-color="#0000ff"/><stop offset="0.457" stop-color="#ffffff"/><stop offset="0.544" stop-color="#ffffff"/><stop offset="0.983" stop-color="#ff0000"/></linearGradient></defs>
<rect x="34.6" y="517.6" width="157" height="35.4" fill="url(#cb)" stroke="#000" stroke-width="1.2"/>
<line x1="57.3" y1="553" x2="57.3" y2="563.7" stroke="#000" stroke-width="1.6"/>
<line x1="113.1" y1="553" x2="113.1" y2="563.7" stroke="#000" stroke-width="1.6"/>
<line x1="169.1" y1="553" x2="169.1" y2="563.7" stroke="#000" stroke-width="1.6"/>
<text x="57.3" y="589.6" text-anchor="middle" font-size="20.7">−0.5</text>
<text x="113.1" y="589.6" text-anchor="middle" font-size="20.7">0</text>
<text x="169.1" y="589.6" text-anchor="middle" font-size="20.7">0.5</text>
<text x="119.2" y="615.7" text-anchor="middle" font-size="20.7">Correlation</text>
<text x="5.3" y="507.1" font-size="24.5" style="fill:#231815;stroke:#231815">(b)</text>
</svg>
</body></html>
